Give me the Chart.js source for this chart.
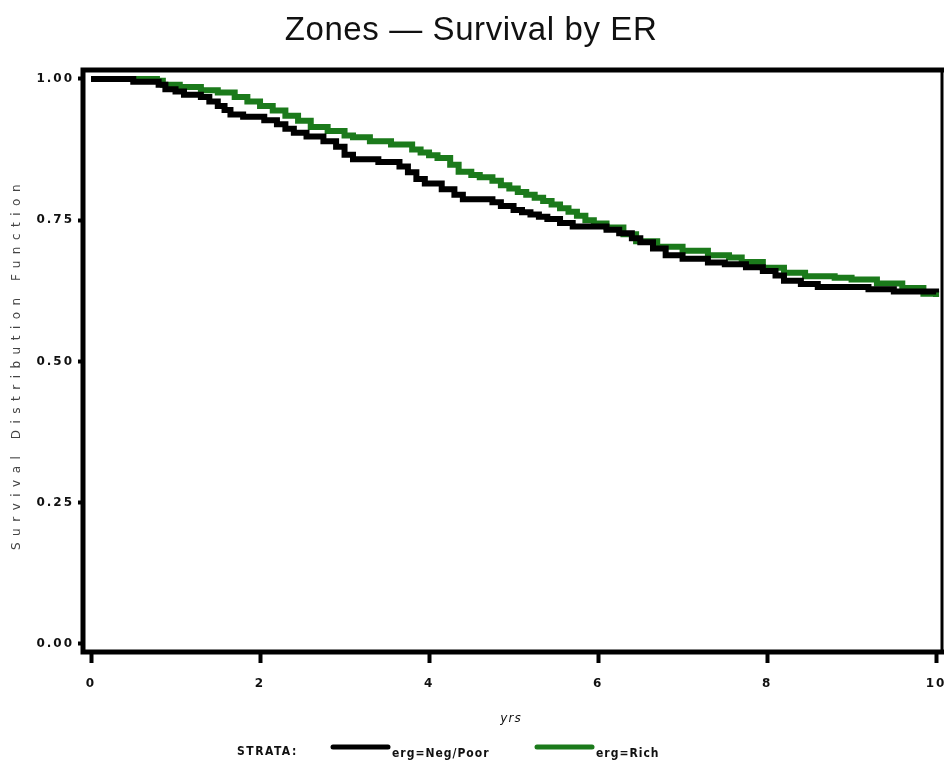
<!DOCTYPE html>
<html>
<head>
<meta charset="utf-8">
<script src="https://cdn.jsdelivr.net/npm/chart.js@4"></script>
<style>
  body { margin: 0; background: #fff; }
  #wrap { width: 944px; height: 767px; }
</style>
</head>
<body>
<div id="wrap"><canvas id="kmChart" width="944" height="767"></canvas></div>
<script>
// survival curves (years, survival)
const negTimes = [0, 0.50, 0.80, 0.88, 1.00, 1.10, 1.30, 1.40, 1.50, 1.58, 1.65, 1.80, 2.05, 2.20, 2.30, 2.40, 2.55, 2.75, 2.90, 3.00, 3.10, 3.40, 3.65, 3.75, 3.85, 3.95, 4.15, 4.30, 4.40, 4.75, 4.85, 5.00, 5.10, 5.20, 5.30, 5.40, 5.55, 5.70, 6.10, 6.25, 6.40, 6.50, 6.65, 6.80, 7.00, 7.30, 7.50, 7.75, 7.95, 8.10, 8.20, 8.40, 8.60, 9.20, 9.50, 10.0];
const negSurv = [1.000, 0.995, 0.990, 0.982, 0.978, 0.972, 0.968, 0.960, 0.952, 0.945, 0.937, 0.933, 0.927, 0.920, 0.912, 0.905, 0.898, 0.890, 0.880, 0.866, 0.858, 0.853, 0.845, 0.835, 0.823, 0.815, 0.805, 0.795, 0.787, 0.782, 0.775, 0.768, 0.764, 0.760, 0.756, 0.752, 0.745, 0.739, 0.733, 0.727, 0.718, 0.711, 0.700, 0.688, 0.682, 0.675, 0.672, 0.667, 0.660, 0.652, 0.643, 0.637, 0.632, 0.628, 0.624, 0.622];

const richTimes = [0, 0.78, 0.85, 1.05, 1.30, 1.50, 1.70, 1.85, 2.00, 2.15, 2.30, 2.45, 2.60, 2.80, 3.00, 3.10, 3.30, 3.55, 3.80, 3.90, 4.00, 4.10, 4.25, 4.35, 4.50, 4.60, 4.75, 4.85, 4.95, 5.05, 5.15, 5.25, 5.35, 5.45, 5.55, 5.65, 5.75, 5.85, 5.95, 6.10, 6.30, 6.45, 6.70, 7.00, 7.30, 7.55, 7.70, 7.95, 8.20, 8.45, 8.80, 9.00, 9.30, 9.60, 9.85, 10.0];
const richSurv = [1.000, 0.997, 0.990, 0.986, 0.980, 0.976, 0.968, 0.960, 0.952, 0.944, 0.935, 0.926, 0.915, 0.908, 0.900, 0.897, 0.890, 0.884, 0.875, 0.870, 0.865, 0.860, 0.848, 0.836, 0.830, 0.826, 0.820, 0.812, 0.806, 0.800, 0.795, 0.790, 0.784, 0.778, 0.771, 0.765, 0.758, 0.750, 0.744, 0.737, 0.725, 0.713, 0.703, 0.696, 0.688, 0.684, 0.676, 0.666, 0.657, 0.651, 0.648, 0.645, 0.638, 0.630, 0.620, 0.614];

const xTicks = [0, 2, 4, 6, 8, 10];
const yTicks = [0, 0.25, 0.5, 0.75, 1];
const seriesNames = ['erg=Neg/Poor', 'erg=Rich'];
const seriesColors = ['#000000', '#1b7a1b'];

function toPoints(ts, ss) {
  return ts.map((t, i) => ({ x: t, y: ss[i] }));
}

// SAS style text, frame and legend
const sasDecor = {
  id: 'sasDecor',
  beforeDraw(chart) {
    chart.ctx.letterSpacing = '2px';
  },
  afterDraw(chart) {
    const { ctx, chartArea: a } = chart;
    ctx.save();
    ctx.letterSpacing = '0px';
    ctx.strokeStyle = '#000';
    ctx.lineCap = 'square';
    ctx.lineWidth = 5;
    ctx.beginPath();
    ctx.moveTo(a.left, a.bottom);
    ctx.lineTo(a.left, a.top);
    ctx.lineTo(a.right, a.top);
    ctx.moveTo(a.left, a.bottom);
    ctx.lineTo(a.right, a.bottom);
    ctx.stroke();
    ctx.lineWidth = 3;
    ctx.beginPath();
    ctx.moveTo(a.right, a.top);
    ctx.lineTo(a.right, a.bottom);
    ctx.stroke();

    ctx.fillStyle = '#111';
    ctx.textAlign = 'center';
    ctx.textBaseline = 'middle';
    ctx.font = '33px "Liberation Sans"';
    ctx.letterSpacing = '0.6px';
    ctx.fillText('Zones \u2014 Survival by ER', 471, 31);

    ctx.save();
    ctx.translate(17, 364);
    ctx.rotate(-Math.PI / 2);
    ctx.font = '12px "DejaVu Sans"';
    ctx.letterSpacing = '6.5px';
    ctx.fillStyle = '#444';
    ctx.fillText('Survival Distribution Function', 0, 0);
    ctx.restore();

    ctx.font = 'italic 12px "DejaVu Sans"';
    ctx.letterSpacing = '1px';
    ctx.fillText('yrs', 511, 719);

    ctx.textAlign = 'left';
    ctx.font = 'bold 12px "DejaVu Sans Condensed"';
    ctx.letterSpacing = '1.5px';
    ctx.fillText('STRATA:', 237, 752);

    const legendX = [333, 537];
    ctx.lineCap = 'round';
    ctx.lineWidth = 5;
    seriesNames.forEach((name, i) => {
      ctx.strokeStyle = seriesColors[i];
      ctx.beginPath();
      ctx.moveTo(legendX[i], 747);
      ctx.lineTo(legendX[i] + 55, 747);
      ctx.stroke();
      ctx.letterSpacing = '1px';
      ctx.fillText(name, legendX[i] + 59, 754);
    });
    ctx.restore();
  }
};

const ctx = document.getElementById('kmChart').getContext('2d');

new Chart(ctx, {
  type: 'line',
  data: {
    datasets: [
      {
        label: seriesNames[0],
        data: toPoints(negTimes, negSurv),
        borderColor: seriesColors[0],
        borderWidth: 6,
        stepped: true,
        pointRadius: 0
      },
      {
        label: seriesNames[1],
        data: toPoints(richTimes, richSurv),
        borderColor: seriesColors[1],
        borderWidth: 6,
        stepped: true,
        pointRadius: 0
      }
    ]
  },
  options: {
    responsive: false,
    animation: false,
    events: [],
    layout: { padding: { top: 70, right: 2, left: 0, bottom: 0 } },
    plugins: {
      legend: { display: false },
      title: { display: false },
      tooltip: { enabled: false }
    },
    scales: {
      x: {
        type: 'linear',
        min: -0.095,
        max: 10.07,
        afterBuildTicks(scale) { scale.ticks = xTicks.map(v => ({ value: v })); },
        afterFit(scale) {
          scale.height = 115;
          scale.paddingLeft = 0;
          scale.paddingRight = 0;
        },
        border: { display: false },
        grid: { drawOnChartArea: false, tickLength: 11, tickWidth: 4, tickColor: '#000' },
        ticks: {
          padding: 14,
          maxRotation: 0,
          autoSkip: false,
          color: '#111',
          font: { family: 'DejaVu Sans', size: 12, weight: 'bold' },
          callback: v => String(v)
        }
      },
      y: {
        type: 'linear',
        min: -0.0142,
        max: 1.0159,
        afterBuildTicks(scale) { scale.ticks = yTicks.map(v => ({ value: v })); },
        afterFit(scale) {
          scale.width = 83;
          scale.paddingTop = 0;
          scale.paddingBottom = 0;
        },
        border: { display: false },
        grid: { drawOnChartArea: false, tickLength: 5, tickWidth: 4, tickColor: '#000' },
        ticks: {
          padding: 4,
          color: '#111',
          font: { family: 'DejaVu Sans', size: 12, weight: 'bold' },
          callback: v => v.toFixed(2)
        }
      }
    }
  },
  plugins: [sasDecor]
});
</script>
</body>
</html>
